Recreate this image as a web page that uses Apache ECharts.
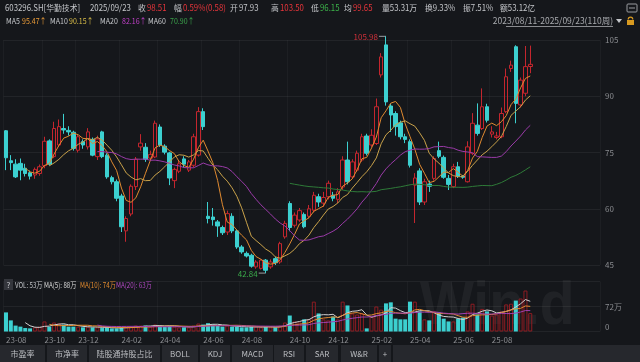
<!DOCTYPE html>
<html><head><meta charset="utf-8">
<script src="https://cdn.jsdelivr.net/npm/echarts@6/dist/echarts.min.js"></script>
<style>html,body{margin:0;padding:0;background:#15171b;overflow:hidden}#c{width:640px;height:362px}</style>
</head><body><div id="c"></div>
<script>
// ---- data (weekly, 2023/08/11 - 2025/09/23, 110 weeks) ----
// [open, close, low, high]
const ohlc = [
[80.8,73.6,70.3,81.0],[72.8,72.3,70.3,74.3],[71.9,68.5,68.2,73.2],[72.1,70.3,67.6,73.4],[70.8,69.4,68.6,72.0],
[69.6,68.7,67.8,70.2],[69.0,70.5,68.0,71.0],[69.4,71.2,68.8,71.8],[71.5,78.0,70.8,79.2],[78.1,71.9,71.5,78.5],
[73.9,81.4,73.5,83.2],[77.0,81.9,76.5,83.8],[81.4,81.0,80.0,85.3],[80.9,80.5,79.5,82.0],[80.4,76.1,75.5,80.8],
[75.6,79.2,75.0,79.8],[77.9,77.0,76.0,78.5],[76.5,80.5,75.8,81.5],[78.5,74.3,74.0,79.0],[73.9,78.6,73.0,79.5],
[80.5,73.9,73.5,80.8],[74.3,68.5,68.0,74.8],[68.3,67.2,66.5,68.8],[67.2,62.8,62.0,67.8],[63.4,55.2,53.8,64.0],
[54.1,57.4,51.2,58.0],[58.6,66.0,58.0,66.5],[65.9,73.2,65.0,73.8],[76.5,77.5,75.5,79.9],[76.4,73.2,72.5,77.5],
[73.5,74.5,72.8,75.5],[73.8,82.8,73.5,83.5],[81.8,77.0,76.5,82.5],[76.7,75.1,74.5,77.2],[74.9,68.2,66.3,75.2],
[67.5,70.5,65.5,71.0],[70.0,72.0,69.5,73.0],[73.3,71.9,71.0,74.0],[70.3,72.5,69.8,73.0],[71.6,79.2,71.0,80.0],
[74.3,85.9,73.9,87.1],[85.9,81.9,81.0,86.8],[58.0,57.4,56.1,61.8],[57.8,57.1,55.5,60.2],[56.5,55.4,52.5,57.0],
[55.0,53.6,53.0,55.5],[53.8,58.7,53.0,59.5],[58.0,54.1,53.5,58.8],[54.1,49.8,49.3,54.5],[49.8,48.5,48.0,50.3],
[48.1,47.4,47.0,48.6],[47.6,44.7,44.3,48.0],[44.5,45.8,44.0,46.3],[44.1,46.3,43.8,46.5],[46.3,43.6,42.84,46.6],
[44.5,45.8,44.0,46.5],[46.7,45.6,45.0,47.2],[45.8,50.7,45.3,51.2],[52.5,56.1,52.0,56.8],[61.4,55.0,54.0,62.0],
[55.6,58.3,55.0,59.0],[57.0,59.5,56.5,60.2],[58.5,55.2,54.8,59.0],[58.0,60.0,57.5,61.0],[59.6,63.6,59.0,64.5],
[63.2,61.8,60.5,64.0],[61.5,63.0,60.5,64.5],[63.2,66.8,62.5,67.5],[63.6,62.8,62.0,64.5],[62.5,64.5,61.5,65.5],
[65.8,73.0,65.0,74.0],[73.0,67.2,66.5,77.9],[68.5,72.5,68.0,73.2],[70.3,74.8,69.8,75.5],[73.0,79.2,72.5,80.0],
[79.4,74.8,74.2,80.0],[77.0,79.6,76.5,81.2],[77.4,87.2,77.0,89.4],[95.7,100.5,95.0,101.5],[103.7,88.5,87.5,105.98],
[87.4,85.0,80.5,88.0],[85.4,81.9,79.5,86.0],[82.9,79.2,78.5,83.5],[79.2,78.5,77.5,80.0],[77.9,71.6,71.0,78.5],
[66.3,68.2,56.2,69.5],[70.1,61.8,61.0,70.8],[61.8,67.2,61.0,68.0],[66.6,66.0,64.5,67.5],[68.1,73.4,67.5,74.0],
[75.5,74.0,73.5,77.9],[73.7,68.4,68.0,74.2],[68.1,66.5,65.0,69.0],[65.9,71.2,65.5,72.0],[71.2,68.7,68.2,72.5],
[68.7,68.4,68.0,69.0],[67.2,76.5,67.0,78.0],[74.8,82.8,74.3,85.5],[82.3,80.1,79.5,88.1],[81.4,87.2,81.0,92.1],
[87.2,83.6,83.0,88.0],[79.9,80.5,79.0,82.0],[79.0,79.4,78.5,80.5],[79.2,85.4,78.8,87.0],[85.9,95.2,85.5,97.4],
[97.4,98.3,96.5,99.5],[103.2,88.1,82.8,103.6],[87.7,94.3,87.0,95.0],[90.8,97.9,90.0,103.4],[97.93,98.51,96.15,103.5]
];
// weekly volume, 万股
const volumes = [
55,32,17,14,10,9,12,14,29,14, 26,23,20,14,14,14,12,14,12,12,
10,12,9,9,12,12,14,17,17,17, 14,20,17,14,17,14,12,12,12,17,
23,20,24,20,17,14,17,14,14,12, 12,14,14,12,14,12,12,17,26,46,
29,26,35,35,86,52,35,32,43,35, 86,75,52,49,52,9,43,72,63,81,
84,37,35,35,86,86,58,35,32,58, 55,37,29,29,37,40,58,80,49,65,
58,46,49,58,78,80,89,95,118,53
];
const monthTicks = [[0,'23-08'],[8,'23-10'],[15,'23-12'],[24,'24-02'],[32,'24-04'],[41,'24-06'],[49,'24-08'],
  [59,'24-10'],[67,'24-12'],[76,'25-02'],[84,'25-04'],[93,'25-06'],[101,'25-08']];
const priceTicks = {min:45,max:105,step:15};
const volTicks = {min:0,max:144,step:72};
const slotCount = 124;

const RED='#c4262e', CYAN='#3cd0d0', BG='#15171b';
const FONT="'Noto Sans CJK SC','Microsoft YaHei',sans-serif";

function ma(arr, n){ return arr.map((_,i)=>{ if(i<n-1) return null; let s=0; for(let k=i-n+1;k<=i;k++) s+=arr[k]; return +(s/n).toFixed(2);}); }
const closes = ohlc.map(d=>d[1]);
const cats = Array.from({length:slotCount},(_,i)=>String(i));
const tickMap = new Map(monthTicks);

const chart = echarts.init(document.getElementById('c'), null, {renderer:'canvas'});
const lineS = (name,data,color,xi,yi)=>({name,type:'line',data,xAxisIndex:xi,yAxisIndex:yi,symbol:'none',
  lineStyle:{width:1,color},itemStyle:{color},silent:true,z:4,clip:false});

const volData = volumes.map((v,i)=>{
  const up = ohlc[i][1]>=ohlc[i][0];
  return {value:v,itemStyle: up?{color:'rgba(0,0,0,0)',borderColor:'#8e1c22',borderWidth:1}:{color:CYAN}};
});
const AXC='#8a8c90';
chart.setOption({
  animation:false, backgroundColor:BG,
  grid:[{left:3.6,top:40,width:596.4,height:225},{left:3.6,top:281.5,width:596.4,height:50}],
  xAxis:[
    {type:'category',data:cats,gridIndex:0,boundaryGap:true,axisLine:{show:false},axisTick:{show:false},axisLabel:{show:false},
     splitLine:{show:true,interval:(i)=>tickMap.has(i),lineStyle:{color:'rgba(255,255,255,0.035)'}}},
    {type:'category',data:cats,gridIndex:1,boundaryGap:true,axisLine:{show:false},axisTick:{show:false},
     splitLine:{show:true,interval:(i)=>tickMap.has(i),lineStyle:{color:'rgba(255,255,255,0.035)'}},
     axisLabel:{interval:(i)=>tickMap.has(i),formatter:(v,i)=>tickMap.get(+v)||'',align:'left',color:AXC,fontSize:8,fontFamily:FONT,margin:4}}
  ],
  yAxis:[
    {type:'value',gridIndex:0,position:'right',min:priceTicks.min,max:priceTicks.max,interval:priceTicks.step,
     axisLine:{show:false},axisTick:{show:false},axisLabel:{color:AXC,fontSize:8,fontFamily:FONT,margin:5},
     splitLine:{lineStyle:{color:'rgba(255,255,255,0.06)'}}},
    {type:'value',gridIndex:1,position:'right',min:volTicks.min,max:volTicks.max,interval:volTicks.step,
     axisLine:{show:false},axisTick:{show:false},
     axisLabel:{color:AXC,fontSize:8,fontFamily:FONT,margin:5,
       formatter:(v)=>v===72?'72万':(v===0?'{z|0}':''),rich:{z:{padding:[0,0,10,0],color:AXC,fontSize:8}}},
     splitLine:{lineStyle:{color:'rgba(255,255,255,0.06)'}}}
  ],
  series:[
    {type:'candlestick',data:ohlc,xAxisIndex:0,yAxisIndex:0,barWidth:4,clip:false,z:3,
     itemStyle:{color:'rgba(0,0,0,0)',color0:CYAN,borderColor:RED,borderColor0:CYAN,borderWidth:1}},
    lineS('MA5',ma(closes,5),'#e08a30',0,0),
    lineS('MA10',ma(closes,10),'#c9a24a',0,0),
    lineS('MA20',ma(closes,20),'#9a3aa8',0,0),
    lineS('MA60',ma(closes,60),'#2e7a38',0,0),
    {type:'bar',data:volData,xAxisIndex:1,yAxisIndex:1,barWidth:4,z:3,clip:false},
    lineS('VMA5',ma(volumes,5),'#d0d0d0',1,1),
    lineS('VMA10',ma(volumes,10),'#e08a30',1,1),
    lineS('VMA20',ma(volumes,20),'#a040b0',1,1)
  ]
});

// ---- texts / decorations ----
const G=[];
const T=(x,y,text,fill,size,sx)=>G.push({type:'text',x,y,scaleX:sx||1,silent:true,
  style:{text,fill,font:`${size||8}px ${FONT}`,textVerticalAlign:'middle',textAlign:'left'}});
const GRAY='#c4c6ca', RTXT='#e8353b', GTXT='#3cb44a';
const headerItems=[[5,'603296.SH[华勤技术]',GRAY],[90,'2025/09/23',GRAY],[138,'收',GRAY],[147,'98.51',RTXT],
 [174,'幅',GRAY],[183,'0.59%(0.58)',RTXT],[230,'开',GRAY],[239,'97.93',GRAY],[271,'高',GRAY],[280,'103.50',RTXT],
 [311,'低',GRAY],[320,'96.15',GTXT],[344,'均',GRAY],[353,'99.65',RTXT],[382,'量53.31万',GRAY],[425,'换9.33%',GRAY],
 [463,'振7.51%',GRAY],[500,'额53.12亿',GRAY]];
headerItems.forEach(h=>T(h[0],8,h[1],h[2],8.5,0.92));
const maItems=[[6,'MA5',GRAY],[22,'95.47↑','#e89a38'],[50,'MA10',GRAY],[69,'90.15↑','#d8bc48'],[100,'MA20',GRAY],
 [122,'82.16↑','#c040c8'],[148,'MA60',GRAY],[170,'70.90↑','#3aa04a']];
maItems.forEach(h=>T(h[0],21,h[1],h[2],8,0.88));
G.push({type:'text',x:613,y:21,silent:true,style:{text:'2023/08/11-2025/09/23(110周)',fill:'#a8aaae',font:`8.5px ${FONT}`,textAlign:'right',textVerticalAlign:'middle'}});
G.push({type:'line',silent:true,shape:{x1:506,y1:26.5,x2:613,y2:26.5},style:{stroke:'#8a8c90',lineWidth:1}});
G.push({type:'polygon',silent:true,shape:{points:[[616,19],[622,19],[619,23]]},style:{fill:'#c4c6ca'}});
// lock icon
G.push({type:'rect',silent:true,shape:{x:627,y:20,width:7,height:5},style:{fill:'#d89a20'}});
G.push({type:'arc',silent:true,shape:{cx:630.5,cy:19.5,r:2.3,startAngle:Math.PI,endAngle:0},style:{stroke:'#d89a20',fill:null,lineWidth:1.2}});
// top-right icon
G.push({type:'rect',silent:true,shape:{x:627,y:4,width:10,height:8,r:1},style:{stroke:'#9a9ca0',fill:null,lineWidth:1}});
G.push({type:'line',silent:true,shape:{x1:629,y1:8,x2:635,y2:8},style:{stroke:'#9a9ca0',lineWidth:1}});
// volume header
G.push({type:'rect',silent:true,shape:{x:4,y:279,width:9,height:11},style:{fill:'#34363c'}});
T(6.5,285,'?','#c4c6ca',8);
T(15,285,'VOL: 53万','#c4c6ca',8,0.77); T(44,285,'MA(5): 88万','#d8d8d8',8,0.77);
T(80,285,'MA(10): 74万','#e08a30',8,0.77); T(116,285,'MA(20): 63万','#b048c0',8,0.77);
// watermark
G.push({type:'text',x:420,y:307,scaleX:0.92,silent:true,z:-1,style:{text:'Win.d',fill:'rgba(255,255,255,0.05)',font:`bold 62px 'Liberation Sans',sans-serif`,textVerticalAlign:'middle'}});
// bottom tabs
const tabs=[[0,45,'市盈率'],[47,87,'市净率'],[89,160,'陆股通持股占比'],[162,198,'BOLL'],[200,230,'KDJ'],[232,273,'MACD'],
 [274,304,'RSI'],[306,338,'SAR'],[341,377,'W&R'],[379,391,'+'],[393,640,'']];
tabs.forEach(t=>{G.push({type:'rect',silent:true,shape:{x:t[0],y:345,width:t[1]-t[0],height:17},style:{fill:'#26282d'}});
 if(t[2]) G.push({type:'text',silent:true,x:(t[0]+t[1])/2,y:353.5,style:{text:t[2],fill:'#bcbec2',font:`8px ${FONT}`,textAlign:'center',textVerticalAlign:'middle'}});});
// extreme labels
let hi=0, lo=0; ohlc.forEach((d,i)=>{ if(d[3]>ohlc[hi][3]) hi=i; if(d[2]<ohlc[lo][2]) lo=i; });
const pH=chart.convertToPixel({xAxisIndex:0,yAxisIndex:0},[hi,ohlc[hi][3]]);
const pL=chart.convertToPixel({xAxisIndex:0,yAxisIndex:0},[lo,ohlc[lo][2]]);
G.push({type:'line',silent:true,shape:{x1:pH[0]-7,y1:pH[1],x2:pH[0],y2:pH[1]},style:{stroke:'#9a9ca0',lineWidth:1}});
G.push({type:'text',silent:true,x:pH[0]-8,y:pH[1]+1,style:{text:String(ohlc[hi][3]),fill:'#d0303a',font:`8px ${FONT}`,textAlign:'right',textVerticalAlign:'middle'}});
G.push({type:'line',silent:true,shape:{x1:pL[0]-7,y1:pL[1],x2:pL[0],y2:pL[1]},style:{stroke:'#9a9ca0',lineWidth:1}});
G.push({type:'text',silent:true,x:pL[0]-8,y:pL[1]+1,style:{text:String(ohlc[lo][2]),fill:'#3aa84a',font:`8px ${FONT}`,textAlign:'right',textVerticalAlign:'middle'}});
chart.setOption({graphic:G});
</script></body></html>
